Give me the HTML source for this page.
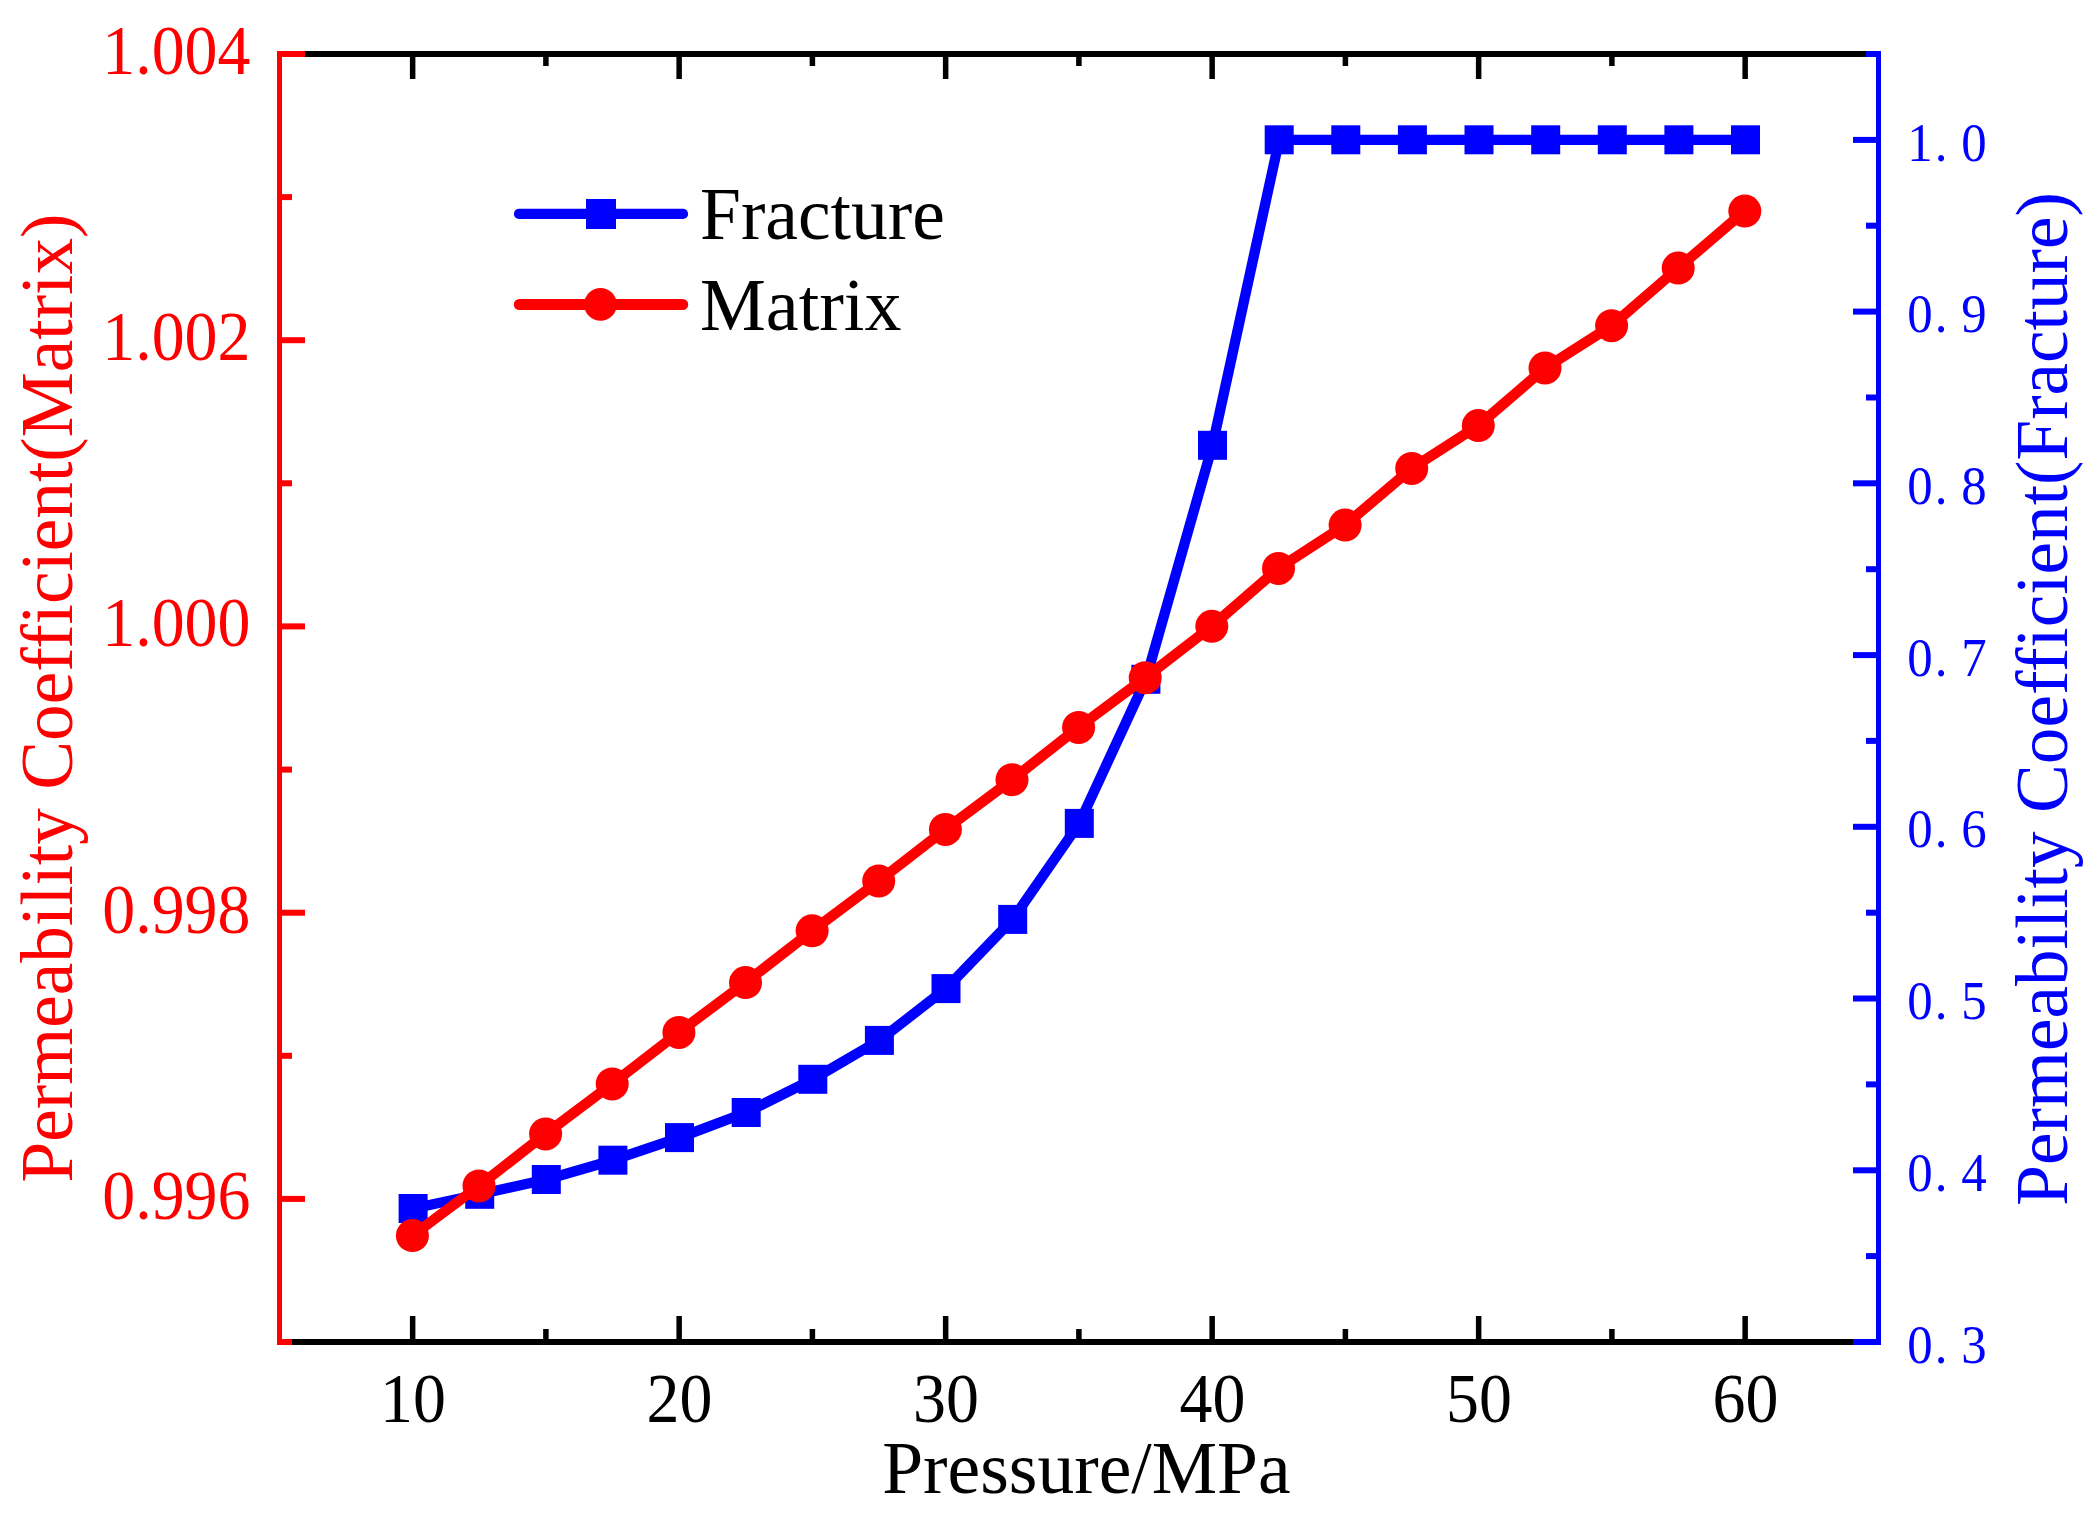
<!DOCTYPE html>
<html lang="en"><head><meta charset="utf-8"><title>Permeability Coefficient vs Pressure</title>
<style>html,body{margin:0;padding:0;background:#fff}svg{display:block}text{font-family:"Liberation Serif",serif}</style></head><body>
<svg width="2098" height="1517" viewBox="0 0 2098 1517">
<rect width="2098" height="1517" fill="#fff"/>
<g fill="#000000">
<rect x="277" y="51" width="1604" height="6"/>
<rect x="277" y="1339" width="1604" height="6"/>
<rect x="409.90" y="57" width="5.5" height="22"/>
<rect x="409.90" y="1316" width="5.5" height="23"/>
<rect x="543.15" y="57" width="5.5" height="9"/>
<rect x="543.15" y="1329" width="5.5" height="10"/>
<rect x="676.40" y="57" width="5.5" height="22"/>
<rect x="676.40" y="1316" width="5.5" height="23"/>
<rect x="809.65" y="57" width="5.5" height="9"/>
<rect x="809.65" y="1329" width="5.5" height="10"/>
<rect x="942.90" y="57" width="5.5" height="22"/>
<rect x="942.90" y="1316" width="5.5" height="23"/>
<rect x="1076.15" y="57" width="5.5" height="9"/>
<rect x="1076.15" y="1329" width="5.5" height="10"/>
<rect x="1209.40" y="57" width="5.5" height="22"/>
<rect x="1209.40" y="1316" width="5.5" height="23"/>
<rect x="1342.65" y="57" width="5.5" height="9"/>
<rect x="1342.65" y="1329" width="5.5" height="10"/>
<rect x="1475.90" y="57" width="5.5" height="22"/>
<rect x="1475.90" y="1316" width="5.5" height="23"/>
<rect x="1609.15" y="57" width="5.5" height="9"/>
<rect x="1609.15" y="1329" width="5.5" height="10"/>
<rect x="1742.40" y="57" width="5.5" height="22"/>
<rect x="1742.40" y="1316" width="5.5" height="23"/>
</g>
<g fill="#ff0000">
<rect x="277" y="51" width="5" height="1294"/>
<rect x="277" y="1339.0" width="15" height="6"/>
<rect x="277" y="1195.9" width="28" height="6"/>
<rect x="277" y="1052.8" width="15" height="6"/>
<rect x="277" y="909.7" width="28" height="6"/>
<rect x="277" y="766.6" width="15" height="6"/>
<rect x="277" y="623.4" width="28" height="6"/>
<rect x="277" y="480.3" width="15" height="6"/>
<rect x="277" y="337.2" width="28" height="6"/>
<rect x="277" y="194.1" width="15" height="6"/>
<rect x="277" y="51.0" width="28" height="6"/>
</g>
<g fill="#0000ff">
<rect x="1876" y="51" width="5" height="1294"/>
<rect x="1853" y="1339.0" width="28" height="6"/>
<rect x="1866" y="1253.1" width="15" height="6"/>
<rect x="1853" y="1167.3" width="28" height="6"/>
<rect x="1866" y="1081.4" width="15" height="6"/>
<rect x="1853" y="995.5" width="28" height="6"/>
<rect x="1866" y="909.7" width="15" height="6"/>
<rect x="1853" y="823.8" width="28" height="6"/>
<rect x="1866" y="737.9" width="15" height="6"/>
<rect x="1853" y="652.1" width="28" height="6"/>
<rect x="1866" y="566.2" width="15" height="6"/>
<rect x="1853" y="480.3" width="28" height="6"/>
<rect x="1866" y="394.5" width="15" height="6"/>
<rect x="1853" y="308.6" width="28" height="6"/>
<rect x="1866" y="222.7" width="15" height="6"/>
<rect x="1853" y="136.9" width="28" height="6"/>
<rect x="1866" y="51.0" width="15" height="6"/>
</g>
<polyline fill="none" stroke="#0000ff" stroke-width="10.3" stroke-linejoin="round" points="413.1,1208.5 479.7,1194.3 546.3,1179.5 612.9,1160.2 679.5,1137.6 746.2,1112.5 812.8,1079.3 879.4,1040.4 946.0,988.6 1012.7,919.4 1079.3,823.4 1145.9,679.3 1212.5,445.3 1279.2,139.8 1345.8,139.8 1412.4,139.8 1479.0,139.8 1545.7,139.8 1612.3,139.8 1678.9,139.8 1745.5,139.8"/>
<g fill="#0000ff">
<rect x="398.6" y="1194.0" width="29" height="29"/>
<rect x="465.2" y="1179.8" width="29" height="29"/>
<rect x="531.8" y="1165.0" width="29" height="29"/>
<rect x="598.4" y="1145.7" width="29" height="29"/>
<rect x="665.0" y="1123.1" width="29" height="29"/>
<rect x="731.7" y="1098.0" width="29" height="29"/>
<rect x="798.3" y="1064.8" width="29" height="29"/>
<rect x="864.9" y="1025.9" width="29" height="29"/>
<rect x="931.5" y="974.1" width="29" height="29"/>
<rect x="998.2" y="904.9" width="29" height="29"/>
<rect x="1064.8" y="808.9" width="29" height="29"/>
<rect x="1131.4" y="664.8" width="29" height="29"/>
<rect x="1198.0" y="430.8" width="29" height="29"/>
<rect x="1264.7" y="125.3" width="29" height="29"/>
<rect x="1331.3" y="125.3" width="29" height="29"/>
<rect x="1397.9" y="125.3" width="29" height="29"/>
<rect x="1464.5" y="125.3" width="29" height="29"/>
<rect x="1531.2" y="125.3" width="29" height="29"/>
<rect x="1597.8" y="125.3" width="29" height="29"/>
<rect x="1664.4" y="125.3" width="29" height="29"/>
<rect x="1731.0" y="125.3" width="29" height="29"/>
</g>
<polyline fill="none" stroke="#ff0000" stroke-width="10.5" stroke-linejoin="round" points="412.4,1235.6 479.0,1185.9 545.6,1133.9 612.2,1083.9 678.9,1032.4 745.5,982.6 812.1,930.8 878.7,881.1 945.4,829.4 1012.0,779.7 1078.6,727.4 1145.2,677.7 1211.8,626.3 1278.5,568.4 1345.1,525.1 1411.7,468.4 1478.3,425.6 1545.0,368.1 1611.6,325.7 1678.2,268.1 1744.8,211.1"/>
<g fill="#ff0000">
<circle cx="412.4" cy="1235.6" r="16.5"/>
<circle cx="479.0" cy="1185.9" r="16.5"/>
<circle cx="545.6" cy="1133.9" r="16.5"/>
<circle cx="612.2" cy="1083.9" r="16.5"/>
<circle cx="678.9" cy="1032.4" r="16.5"/>
<circle cx="745.5" cy="982.6" r="16.5"/>
<circle cx="812.1" cy="930.8" r="16.5"/>
<circle cx="878.7" cy="881.1" r="16.5"/>
<circle cx="945.4" cy="829.4" r="16.5"/>
<circle cx="1012.0" cy="779.7" r="16.5"/>
<circle cx="1078.6" cy="727.4" r="16.5"/>
<circle cx="1145.2" cy="677.7" r="16.5"/>
<circle cx="1211.8" cy="626.3" r="16.5"/>
<circle cx="1278.5" cy="568.4" r="16.5"/>
<circle cx="1345.1" cy="525.1" r="16.5"/>
<circle cx="1411.7" cy="468.4" r="16.5"/>
<circle cx="1478.3" cy="425.6" r="16.5"/>
<circle cx="1545.0" cy="368.1" r="16.5"/>
<circle cx="1611.6" cy="325.7" r="16.5"/>
<circle cx="1678.2" cy="268.1" r="16.5"/>
<circle cx="1744.8" cy="211.1" r="16.5"/>
</g>
<line x1="519" y1="213.9" x2="683" y2="213.9" stroke="#0000ff" stroke-width="10.2" stroke-linecap="round"/>
<rect x="586" y="199" width="30" height="30" fill="#0000ff"/>
<line x1="519.3" y1="304.5" x2="682.7" y2="304.5" stroke="#ff0000" stroke-width="11" stroke-linecap="round"/>
<circle cx="600.5" cy="304.4" r="16.3" fill="#ff0000"/>
<text transform="translate(700.00,239.00)" font-size="73.5" fill="#000000" text-anchor="start">Fracture</text>
<text transform="translate(700.00,329.80)" font-size="74" fill="#000000" text-anchor="start">Matrix</text>
<text transform="translate(413.05,1422.00) scale(0.955,1)" font-size="69" fill="#000000" text-anchor="middle">10</text>
<text transform="translate(679.55,1422.00) scale(0.955,1)" font-size="69" fill="#000000" text-anchor="middle">20</text>
<text transform="translate(946.05,1422.00) scale(0.955,1)" font-size="69" fill="#000000" text-anchor="middle">30</text>
<text transform="translate(1212.55,1422.00) scale(0.955,1)" font-size="69" fill="#000000" text-anchor="middle">40</text>
<text transform="translate(1479.05,1422.00) scale(0.955,1)" font-size="69" fill="#000000" text-anchor="middle">50</text>
<text transform="translate(1745.55,1422.00) scale(0.955,1)" font-size="69" fill="#000000" text-anchor="middle">60</text>
<text transform="translate(1086.40,1493.00)" font-size="73.5" fill="#000000" text-anchor="middle">Pressure/MPa</text>
<text transform="translate(250.50,1218.89) scale(0.955,1)" font-size="69" fill="#ff0000" text-anchor="end">0.996</text>
<text transform="translate(250.50,932.67) scale(0.955,1)" font-size="69" fill="#ff0000" text-anchor="end">0.998</text>
<text transform="translate(250.50,646.44) scale(0.955,1)" font-size="69" fill="#ff0000" text-anchor="end">1.000</text>
<text transform="translate(250.50,360.22) scale(0.955,1)" font-size="69" fill="#ff0000" text-anchor="end">1.002</text>
<text transform="translate(250.50,74.00) scale(0.955,1)" font-size="69" fill="#ff0000" text-anchor="end">1.004</text>
<text transform="translate(71.90,698.00) rotate(-90)" font-size="73.25" fill="#ff0000" text-anchor="middle">Permeability Coefficient(Matrix)</text>
<text transform="translate(0,1362.6) scale(0.925,1)" font-size="55" fill="#0000ff" text-anchor="middle"><tspan x="2075.7">0</tspan><tspan x="2098.4">.</tspan><tspan x="2134.1">3</tspan></text>
<text transform="translate(0,1190.9) scale(0.925,1)" font-size="55" fill="#0000ff" text-anchor="middle"><tspan x="2075.7">0</tspan><tspan x="2098.4">.</tspan><tspan x="2134.1">4</tspan></text>
<text transform="translate(0,1019.1) scale(0.925,1)" font-size="55" fill="#0000ff" text-anchor="middle"><tspan x="2075.7">0</tspan><tspan x="2098.4">.</tspan><tspan x="2134.1">5</tspan></text>
<text transform="translate(0,847.4) scale(0.925,1)" font-size="55" fill="#0000ff" text-anchor="middle"><tspan x="2075.7">0</tspan><tspan x="2098.4">.</tspan><tspan x="2134.1">6</tspan></text>
<text transform="translate(0,675.7) scale(0.925,1)" font-size="55" fill="#0000ff" text-anchor="middle"><tspan x="2075.7">0</tspan><tspan x="2098.4">.</tspan><tspan x="2134.1">7</tspan></text>
<text transform="translate(0,503.9) scale(0.925,1)" font-size="55" fill="#0000ff" text-anchor="middle"><tspan x="2075.7">0</tspan><tspan x="2098.4">.</tspan><tspan x="2134.1">8</tspan></text>
<text transform="translate(0,332.2) scale(0.925,1)" font-size="55" fill="#0000ff" text-anchor="middle"><tspan x="2075.7">0</tspan><tspan x="2098.4">.</tspan><tspan x="2134.1">9</tspan></text>
<text transform="translate(0,160.5) scale(0.925,1)" font-size="55" fill="#0000ff" text-anchor="middle"><tspan x="2075.7">1</tspan><tspan x="2098.4">.</tspan><tspan x="2134.1">0</tspan></text>
<text transform="translate(2066.70,698.90) rotate(-90)" font-size="73.25" fill="#0000ff" text-anchor="middle">Permeability Coefficient(Fracture)</text>
</svg></body></html>
